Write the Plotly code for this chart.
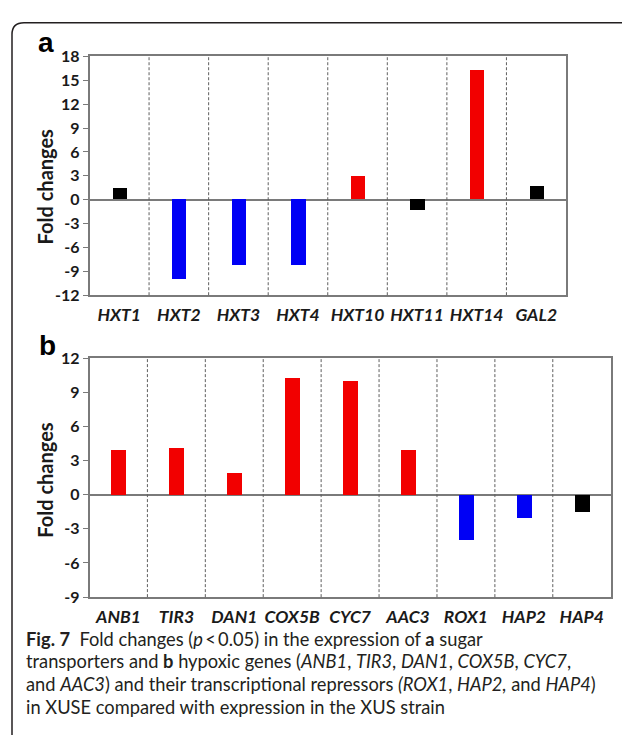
import plotly.graph_objects as go

# ---------------- data ----------------
genes_a = ["HXT1", "HXT2", "HXT3", "HXT4", "HXT10", "HXT11", "HXT14", "GAL2"]
fold_a = [1.4, -10.0, -8.3, -8.3, 2.9, -1.4, 16.2, 1.7]
group_a = ["other", "down", "down", "down", "up", "other", "up", "other"]

genes_b = ["ANB1", "TIR3", "DAN1", "COX5B", "CYC7", "AAC3", "ROX1", "HAP2", "HAP4"]
fold_b = [3.9, 4.1, 1.9, 10.2, 10.0, 3.9, -4.0, -2.1, -1.5]
group_b = ["up", "up", "up", "up", "up", "up", "down", "down", "other"]

yticks_a = [-12, -9, -6, -3, 0, 3, 6, 9, 12, 15, 18]
yticks_b = [-9, -6, -3, 0, 3, 6, 9, 12]

caption_lines = [
    "<b>Fig. 7</b>  Fold changes (<i>p</i>\u2009&lt;\u20090.05) in the expression of <b>a</b> sugar",
    "transporters and <b>b</b> hypoxic genes (<i>ANB1</i>, <i>TIR3</i>, <i>DAN1</i>, <i>COX5B</i>, <i>CYC7</i>,",
    "and <i>AAC3</i>) and their transcriptional repressors <i>(ROX1</i>, <i>HAP2,</i> and <i>HAP4</i>)",
    "in XUSE compared with expression in the XUS strain",
]

# ---------------- style ----------------
W, H = 622, 744
COLORS = {"up": "#f20000", "down": "#0000f5", "other": "#000000"}
AX = "#7a7a7a"
TXT = "#1a1a1a"
FONT = "Lato"


def px(x):
    return x / W


def py(y):
    return 1 - y / H


fig = go.Figure()
fig.add_trace(go.Bar(x=genes_a, y=fold_a, xaxis="x", yaxis="y", width=0.24,
                     marker=dict(color=[COLORS[g] for g in group_a], line=dict(width=0)),
                     showlegend=False))
fig.add_trace(go.Bar(x=genes_b, y=fold_b, xaxis="x2", yaxis="y2", width=0.26,
                     marker=dict(color=[COLORS[g] for g in group_b], line=dict(width=0)),
                     showlegend=False))


def xaxis_cfg(genes, domain, anchor):
    return dict(domain=domain, anchor=anchor, type="category", range=[-0.5, len(genes) - 0.5],
                tickvals=genes, ticktext=[f"<b><i>{g}</i></b>" for g in genes],
                tickfont=dict(family=FONT, size=17.5, color=TXT), ticks="", ticklabelstandoff=3,
                tickangle=0,
                showline=True, linecolor=AX, linewidth=1.5, mirror=True, showgrid=False,
                zeroline=False, fixedrange=True)


def yaxis_cfg(ticks, domain, anchor):
    return dict(domain=domain, anchor=anchor, range=[ticks[0], ticks[-1]], tickvals=ticks,
                ticktext=[f"<b>{t}</b>" for t in ticks],
                tickfont=dict(family=FONT, size=16, color=TXT), ticks="outside", ticklen=5,
                tickcolor=AX, tickwidth=1.2, showline=True, linecolor=AX, linewidth=1.5,
                mirror=True, showgrid=False, zeroline=True, zerolinecolor=AX, zerolinewidth=1.5,
                fixedrange=True)


fig.update_layout(
    width=W, height=H, autosize=False,
    margin=dict(l=0, r=0, t=0, b=0),
    paper_bgcolor="white", plot_bgcolor="white",
    xaxis=xaxis_cfg(genes_a, [px(89.5), px(566)], "y"),
    yaxis=yaxis_cfg(yticks_a, [py(292.7), py(47.7)], "x"),
    xaxis2=xaxis_cfg(genes_b, [px(89.5), px(610.7)], "y2"),
    yaxis2=yaxis_cfg(yticks_b, [py(602.5), py(357.3)], "x2"),
    bargap=0,
)

shapes = []
for n, xr, yr in [(len(genes_a), "x", "y domain"), (len(genes_b), "x2", "y2 domain")]:
    for i in range(n - 1):
        shapes.append(dict(type="line", xref=xr, yref=yr, x0=i + 0.5, x1=i + 0.5, y0=0, y1=1,
                           line=dict(color="#5f5f5f", width=1, dash="3px,2px")))
# rounded frame around the figure
path = (f"M {px(640)},{py(13)} L {px(24)},{py(13)} Q {px(12)},{py(13)} {px(12)},{py(25)} "
        f"L {px(12)},{py(744)}")
shapes.append(dict(type="path", xref="paper", yref="paper", path=path,
                   line=dict(color="#231f20", width=1.5)))
fig.update_layout(shapes=shapes)

ann = []
ann.append(dict(text="<b>a</b>", x=px(46), y=py(33), xref="paper", yref="paper", showarrow=False,
                font=dict(family="Liberation Sans", size=28, color="#000"), xanchor="center", yanchor="middle"))
ann.append(dict(text="<b>b</b>", x=px(47), y=py(344), xref="paper", yref="paper", showarrow=False,
                font=dict(family="Liberation Sans", size=28, color="#000"), xanchor="center", yanchor="middle"))
for yc in (181, 482):
    ann.append(dict(text="<b>Fold changes</b>", x=px(45), y=py(yc), xref="paper", yref="paper",
                    showarrow=False, textangle=-90, font=dict(family=FONT, size=20, color=TXT),
                    xanchor="center", yanchor="middle"))
for k, line in enumerate(caption_lines):
    ann.append(dict(text=line, x=px(24), y=py(645 + 23.3 * k), xref="paper", yref="paper",
                    showarrow=False, font=dict(family=FONT, size=18.3, color="#231f20"),
                    xanchor="left", yanchor="middle", align="left"))
fig.update_layout(annotations=ann)

fig.write_html("out.html", config={"displayModeBar": False},
               post_script="document.body.style.margin='0';document.body.style.overflow='hidden';")
